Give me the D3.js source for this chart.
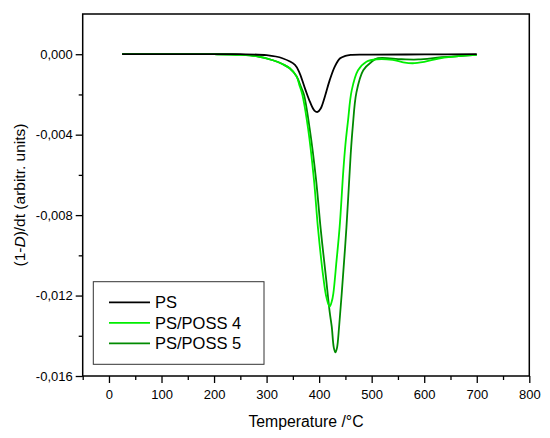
<!DOCTYPE html>
<html>
<head>
<meta charset="utf-8">
<script src="https://cdn.jsdelivr.net/npm/d3@7"></script>
<style>
  html, body { margin: 0; padding: 0; background: #fff; }
  svg { display: block; font-family: "Liberation Sans", Arial, sans-serif; }
</style>
</head>
<body>
<svg id="chart" width="550" height="438"></svg>
<script>
// ---- Data ----
const seriesNames = ["PS", "PS/POSS 4", "PS/POSS 5"];

const psTemp = [25, 100, 200, 250, 300, 330, 354, 363, 373, 383, 391, 397, 403, 411, 420, 430, 440, 450, 460, 500, 600, 700];
const psValue = [0, 0, 0, 0, -0.00005, -0.0002, -0.00053, -0.00095, -0.0017, -0.0024, -0.0028, -0.00287, -0.0027, -0.0021, -0.0013, -0.0006, -0.0002, -0.00008, -0.00003, -0.00002, -0.00001, 0];

const poss4Temp = [25, 100, 200, 250, 280, 312, 331, 344, 357, 362, 368, 379, 390, 398, 408, 414, 420, 424, 427, 433, 439, 446, 450, 455, 462, 474, 490, 510, 540, 560, 578, 600, 630, 670, 700];
const poss4Value = [0, 0, 0, -0.00003, -0.0001, -0.0003, -0.0005, -0.0007, -0.0011, -0.0015, -0.002, -0.0037, -0.0062, -0.0087, -0.0111, -0.0121, -0.01255, -0.0123, -0.0119, -0.0103, -0.0086, -0.0058, -0.0045, -0.0033, -0.0018, -0.0008, -0.00037, -0.00025, -0.00028, -0.0004, -0.00045, -0.00038, -0.0002, -0.00008, -0.00003];

const poss5Temp = [25, 100, 200, 250, 280, 312, 331, 344, 357, 365, 371, 382, 394, 403, 413, 420, 424, 428, 431, 434, 438, 443, 452, 460, 464, 471, 484, 500, 512, 557, 589, 633, 700];
const poss5Value = [0, 0, 0, -0.00003, -0.0001, -0.0003, -0.0005, -0.0007, -0.0011, -0.0016, -0.002, -0.0037, -0.0062, -0.0087, -0.0111, -0.0128, -0.01355, -0.0146, -0.01483, -0.0146, -0.01355, -0.0119, -0.0086, -0.0050, -0.0036, -0.0019, -0.0008, -0.00037, -0.0002, -0.00025, -0.00026, -0.00015, -0.00003];

const xTicks = [0, 100, 200, 300, 400, 500, 600, 700, 800];
const yTicks = [0, -0.004, -0.008, -0.012, -0.016];

// ---- Build series ----
const seriesColors = ["#000000", "#00ee00", "#008a00"];
const series = [
  { name: seriesNames[0], color: seriesColors[0], pts: psTemp.map((t, i) => [t, psValue[i]]) },
  { name: seriesNames[1], color: seriesColors[1], pts: poss4Temp.map((t, i) => [t, poss4Value[i]]) },
  { name: seriesNames[2], color: seriesColors[2], pts: poss5Temp.map((t, i) => [t, poss5Value[i]]) }
];

const svg = d3.select("#chart");
const mLeft = 82.7, mRight = 529.3, mTop = 14, mBottom = 376;

const x = d3.scaleLinear().domain([-50, 800]).range([mLeft, mRight]);
const y = d3.scaleLinear().domain([-0.016, 0.002]).range([mBottom, mTop]);

const fmtY = v => (v === 0 ? "0,000" : d3.format(".3f")(v).replace("−", "-").replace(".", ","));

// Minor ticks
svg.append("g")
  .attr("transform", `translate(0,${mBottom})`)
  .call(d3.axisBottom(x).tickValues(d3.range(-50, 801, 50).filter(v => v % 100 !== 0)).tickSize(4).tickFormat(""))
  .call(g => g.select(".domain").remove())
  .selectAll("line").attr("stroke", "#000").attr("stroke-width", 1.3);
svg.append("g")
  .attr("transform", `translate(${mLeft},0)`)
  .call(d3.axisLeft(y).tickValues([-0.002, -0.006, -0.010, -0.014]).tickSize(4).tickFormat(""))
  .call(g => g.select(".domain").remove())
  .selectAll("line").attr("stroke", "#000").attr("stroke-width", 1.3);

// Major axes
const xAxis = svg.append("g")
  .attr("transform", `translate(0,${mBottom})`)
  .call(d3.axisBottom(x).tickValues(xTicks).tickSize(7).tickPadding(7).tickFormat(d3.format("d")));
xAxis.select(".domain").remove();
xAxis.selectAll("line").attr("stroke", "#000").attr("stroke-width", 1.3);
xAxis.selectAll("text").attr("font-size", 13).attr("fill", "#000")
  .style("font-family", "'Liberation Sans', Arial, sans-serif");

const yAxis = svg.append("g")
  .attr("transform", `translate(${mLeft},0)`)
  .call(d3.axisLeft(y).tickValues(yTicks).tickSize(7).tickPadding(3).tickFormat(fmtY));
yAxis.select(".domain").remove();
yAxis.selectAll("line").attr("stroke", "#000").attr("stroke-width", 1.3);
yAxis.selectAll("text").attr("font-size", 13).attr("fill", "#000")
  .style("font-family", "'Liberation Sans', Arial, sans-serif");

// Curves
const line = d3.line().x(d => x(d[0])).y(d => y(d[1])).curve(d3.curveCatmullRom.alpha(0.5));
const drawOrder = [2, 1, 0];
drawOrder.forEach(i => {
  svg.append("path")
    .datum(series[i].pts)
    .attr("d", line)
    .attr("fill", "none")
    .attr("stroke", series[i].color)
    .attr("stroke-width", 1.8)
    .attr("stroke-linejoin", "round");
});

// Frame
svg.append("rect")
  .attr("x", mLeft).attr("y", mTop)
  .attr("width", mRight - mLeft).attr("height", mBottom - mTop)
  .attr("fill", "none").attr("stroke", "#000").attr("stroke-width", 1.5);

// Axis titles
svg.append("text")
  .attr("x", (mLeft + mRight) / 2).attr("y", 427)
  .attr("text-anchor", "middle").attr("font-size", 15.8).attr("fill", "#000")
  .text("Temperature /°C");

const yt = svg.append("text")
  .attr("transform", `translate(24.5,${(mTop + mBottom) / 2}) rotate(-90)`)
  .attr("text-anchor", "middle").attr("font-size", 15.5).attr("fill", "#000");
yt.append("tspan").text("(1-");
yt.append("tspan").attr("font-style", "italic").text("D");
yt.append("tspan").text(")/dt (arbitr. units)");

// Legend
const lg = svg.append("g");
lg.append("rect")
  .attr("x", 93.3).attr("y", 281.7).attr("width", 170.7).attr("height", 82.6)
  .attr("fill", "#fff").attr("stroke", "#333").attr("stroke-width", 1);
series.forEach((s, i) => {
  const cy = 302.3 + i * 20.5;
  lg.append("line")
    .attr("x1", 109).attr("x2", 150).attr("y1", cy).attr("y2", cy)
    .attr("stroke", s.color).attr("stroke-width", 1.8);
  lg.append("text")
    .attr("x", 155).attr("y", cy).attr("dy", "0.36em")
    .attr("font-size", 16.5).attr("fill", "#000")
    .text(s.name);
});
</script>
</body>
</html>
